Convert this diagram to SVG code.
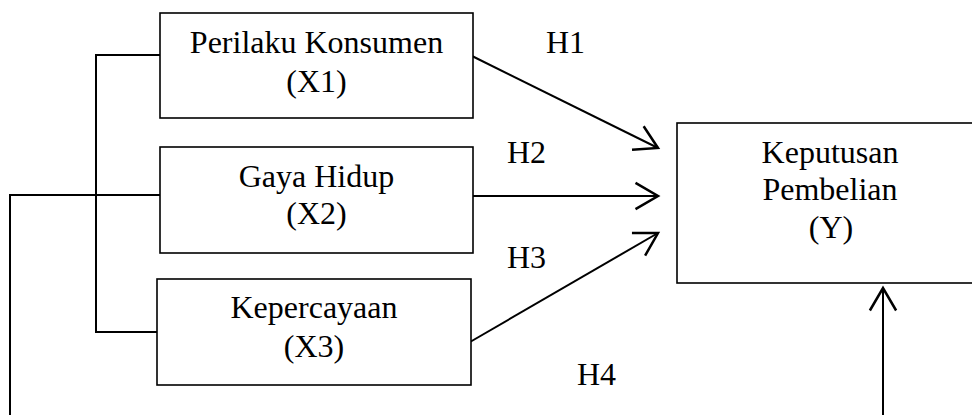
<svg xmlns="http://www.w3.org/2000/svg" width="972" height="415" viewBox="0 0 972 415">
<style>
.box{fill:#fff;stroke:#000;stroke-width:1.6}
.t{font-family:"Liberation Serif","Times New Roman",serif;font-size:32px;fill:#000;text-anchor:middle}
.h{font-family:"Liberation Serif","Times New Roman",serif;font-size:32px;fill:#000}
.ln{fill:none;stroke:#000;stroke-width:2}
</style>
<defs>
<marker id="arr" markerUnits="userSpaceOnUse" markerWidth="30" markerHeight="30" viewBox="-20 -12 22 24" refX="0" refY="0" orient="auto">
<path d="M-18,-10.5 L0,0 L-18,10.5" fill="none" stroke="#000" stroke-width="2"/>
</marker>
</defs>
<rect width="972" height="415" fill="#fff"/>
<g id="connectors">
<polyline class="ln" points="160,55 96,55 96,332 157,332"/>
<polyline class="ln" points="160,195 10,195 10,415"/>
<line class="ln" x1="472" y1="56" x2="658" y2="148" marker-end="url(#arr)"/>
<line class="ln" x1="472" y1="196" x2="658" y2="196" marker-end="url(#arr)"/>
<line class="ln" x1="470" y1="342" x2="658" y2="233" marker-end="url(#arr)"/>
<line class="ln" x1="883" y1="415" x2="883" y2="288" marker-end="url(#arr)"/>
<text class="h" x="546" y="53">H1</text>
<text class="h" x="507" y="163">H2</text>
<text class="h" x="507" y="268">H3</text>
<text class="h" x="577" y="385">H4</text>
</g>
<g id="x1">
<rect class="box" x="160" y="13" width="313" height="105"/>
<text class="t" x="316.5" y="53">Perilaku Konsumen</text>
<text class="t" x="316.5" y="92">(X1)</text>
</g>
<g id="x2">
<rect class="box" x="160" y="147" width="313" height="106"/>
<text class="t" x="316.5" y="187">Gaya Hidup</text>
<text class="t" x="316.5" y="224">(X2)</text>
</g>
<g id="x3">
<rect class="box" x="157" y="279" width="314" height="106"/>
<text class="t" x="314" y="318">Kepercayaan</text>
<text class="t" x="314" y="357">(X3)</text>
</g>
<g id="y">
<rect class="box" x="677" y="123" width="306" height="160"/>
<text class="t" x="830" y="163">Keputusan</text>
<text class="t" x="830" y="200">Pembelian</text>
<text class="t" x="831" y="238">(Y)</text>
</g>
</svg>
